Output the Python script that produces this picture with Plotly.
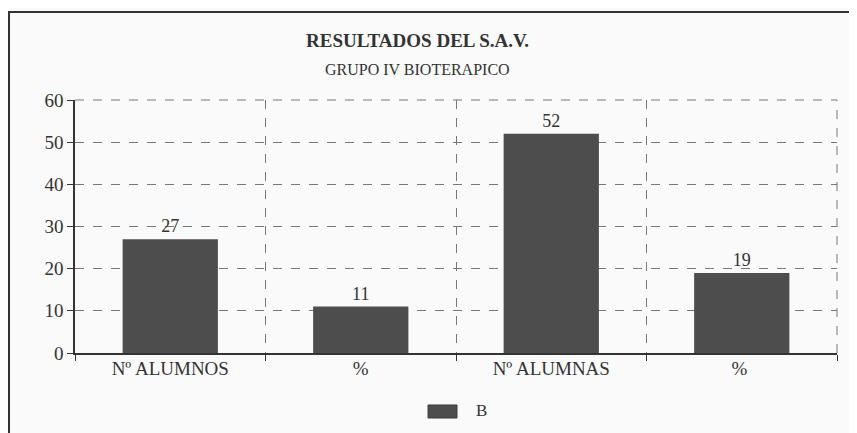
import plotly.graph_objects as go

categories = ["Nº ALUMNOS", "%", "Nº ALUMNAS", "% "]
values = [27, 11, 52, 19]
series_name = "B"
y_ticks = [0, 10, 20, 30, 40, 50, 60]

FONT = "Liberation Serif, Times New Roman, serif"
INK = "#333333"
BAR = "#4d4d4d"

fig = go.Figure()
fig.add_trace(go.Bar(
    x=categories, y=values, name=series_name,
    marker=dict(color=BAR, line=dict(width=0)),
    width=0.5,
    text=[str(v) for v in values], textposition="outside",
    textfont=dict(family=FONT, size=18, color=INK),
    cliponaxis=False,
    showlegend=False,
))

fig.update_layout(
    width=857, height=433,
    margin=dict(l=67, r=28, t=92, b=88, autoexpand=False),
    paper_bgcolor="#fafafa", plot_bgcolor="#fafafa",
    font=dict(family=FONT, size=17, color=INK),
    showlegend=False,
    bargap=0.5,
    annotations=[
        dict(text="<b>RESULTADOS DEL S.A.V.</b>", xref="paper", yref="paper",
             x=0.45, y=1.237, yanchor="middle", showarrow=False,
             font=dict(family=FONT, size=19, color=INK)),
        dict(text="GRUPO IV BIOTERAPICO", xref="paper", yref="paper",
             x=0.45, y=1.119, yanchor="middle", showarrow=False,
             font=dict(family=FONT, size=16, color=INK)),
        # legend label
        dict(text=series_name, xref="paper", yref="paper",
             x=0.524, y=-0.229, xanchor="left", yanchor="middle", showarrow=False,
             font=dict(family=FONT, size=17, color=INK)),
    ],
    shapes=[
        dict(type="rect", xref="paper", yref="paper", x0=-0.0866, x1=1.04, y0=-0.4, y1=1.348,
             line=dict(color=INK, width=2), layer="below"),
        dict(type="line", xref="paper", yref="paper", x0=1, x1=1, y0=0, y1=1,
             line=dict(color="#777777", width=1, dash="dash")),
        dict(type="line", xref="paper", yref="paper", x0=0, x1=1, y0=1, y1=1,
             line=dict(color="#777777", width=1, dash="dash")),
        # legend swatch
        dict(type="rect", xref="paper", yref="paper", x0=0.4633, x1=0.5013, y0=-0.257, y1=-0.2055,
             fillcolor=BAR, line=dict(color="#3a3a3a", width=1)),
    ],
)

fig.update_xaxes(
    type="category", tickson="boundaries", ticks="outside", ticklen=6, tickcolor=INK,
    showline=True, linecolor=INK, linewidth=1.5, automargin=False,
    showgrid=True, gridcolor="#777777", griddash="dash", gridwidth=1,
    tickfont=dict(family=FONT, size=19, color=INK),
    ticklabelstandoff=-3,
    range=[-0.5, 3.5],
)
fig.update_yaxes(
    range=[0, 60], tickvals=y_ticks, ticks="outside", ticklen=6, tickcolor=INK,
    showline=True, linecolor=INK, linewidth=1.5, automargin=False,
    showgrid=True, gridcolor="#777777", griddash="dash", gridwidth=1,
    zeroline=False,
    tickfont=dict(family=FONT, size=19, color=INK),
)

fig.write_html("out.html")
